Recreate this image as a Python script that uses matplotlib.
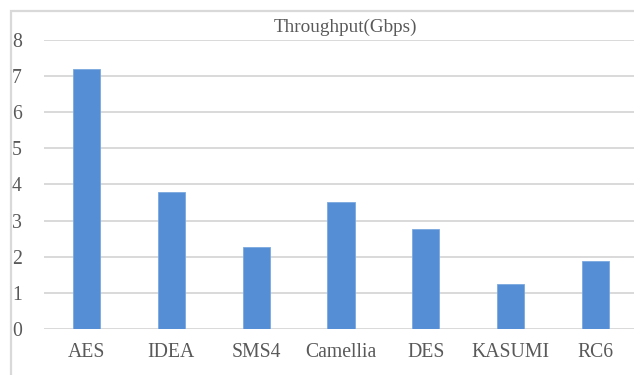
import matplotlib
matplotlib.use("Agg")
import matplotlib.pyplot as plt
from matplotlib.patches import Rectangle

# Throughput of block ciphers
ciphers = ["AES", "IDEA", "SMS4", "Camellia", "DES", "KASUMI", "RC6"]
throughput = [7.2, 3.8, 2.27, 3.51, 2.76, 1.24, 1.88]
yticks = [0, 1, 2, 3, 4, 5, 6, 7, 8]

plt.rcParams["font.family"] = "serif"
plt.rcParams["font.serif"] = ["Liberation Serif", "DejaVu Serif"]
text_color = "#595959"
grid_color = "#d9d9d9"

fig = plt.figure(figsize=(6.34, 3.75), dpi=100)

# chart border (cropped on the right and bottom)
fig.patches.append(Rectangle((11 / 634, -0.05), 1.1, 1.05 - 11 / 375,
                             transform=fig.transFigure, fill=False,
                             edgecolor=grid_color, linewidth=1.6))

ax = fig.add_axes([44 / 634, 46 / 375, 594 / 634, 289 / 375])
x = range(len(ciphers))
ax.bar(x, throughput, width=0.32, color="#558ed5", edgecolor="#7aa9e0",
       linewidth=0.6, zorder=3)

ax.set_xlim(-0.5, len(ciphers) - 0.5)
ax.set_ylim(0, 8)
ax.set_yticks(yticks)
ax.set_xticks(list(x))
ax.set_xticklabels(ciphers)
ax.yaxis.grid(True, color=grid_color, linewidth=1.4, zorder=0)
ax.set_axisbelow(True)
for side in ["left", "right", "top", "bottom"]:
    ax.spines[side].set_visible(False)
ax.tick_params(axis="both", length=0, labelsize=14.2, colors=text_color)
ax.tick_params(axis="y", pad=16)
ax.tick_params(axis="x", pad=10)

fig.text(345 / 634, 1 - 27 / 375, "Throughput(Gbps)", ha="center",
         va="center", fontsize=13.8, color=text_color)

fig.savefig("out.png", dpi=100)
